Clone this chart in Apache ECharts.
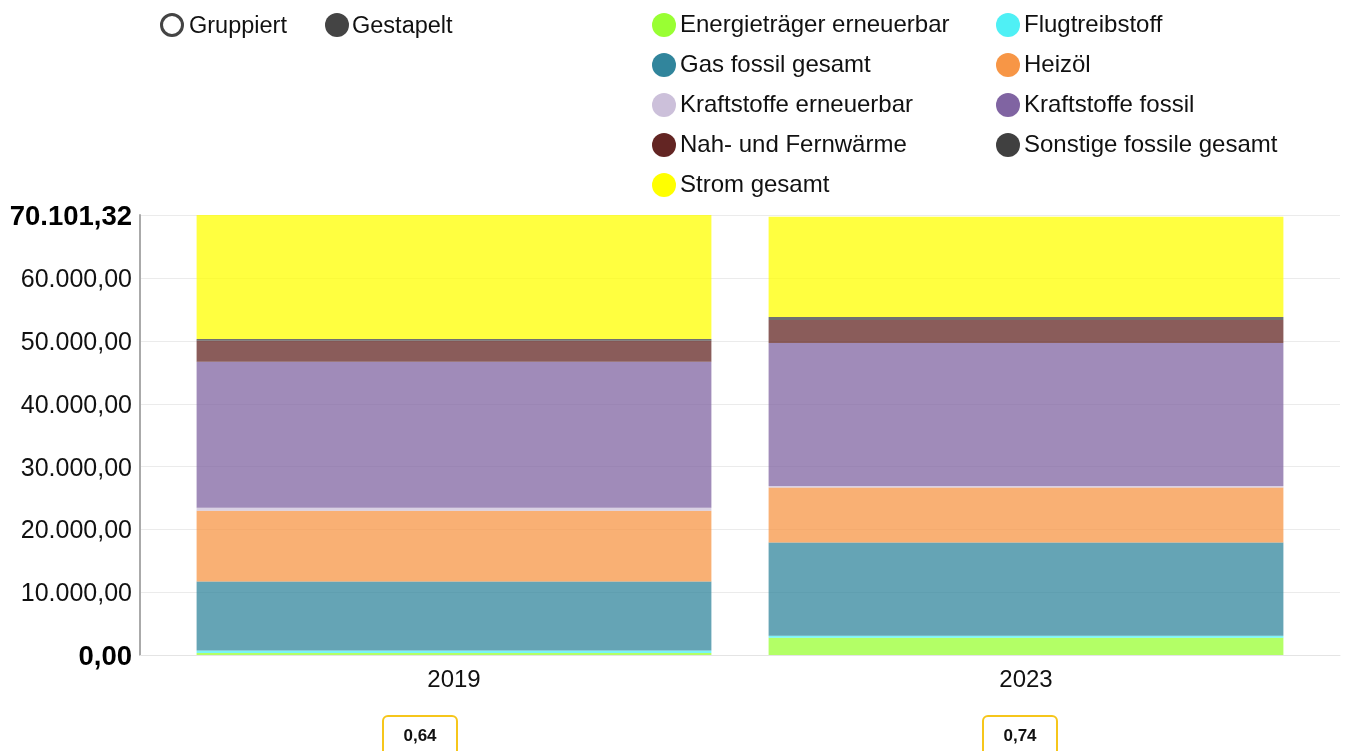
<!DOCTYPE html>
<html>
<head>
<meta charset="utf-8">
<script src="https://cdn.jsdelivr.net/npm/echarts@6/dist/echarts.min.js"></script>
<style>
html,body{margin:0;padding:0;background:#fff;}
#chart{width:1345px;height:751px;}
</style>
</head>
<body>
<div id="chart"></div>
<script>
const categories = ['2019', '2023'];
const seriesNames = [
  'Energieträger erneuerbar', 'Flugtreibstoff', 'Gas fossil gesamt', 'Heizöl',
  'Kraftstoffe erneuerbar', 'Kraftstoffe fossil', 'Nah- und Fernwärme',
  'Sonstige fossile gesamt', 'Strom gesamt'
];
const seriesColors = ['#99ff33', '#4ff0f5', '#31859c', '#f79646', '#ccc0da', '#8064a2', '#632523', '#404040', '#ffff00'];
const energieErneuerbar = [300, 2760];
const flugtreibstoff = [430, 320];
const gasFossil = [10980, 14845];
const heizoel = [11280, 8765];
const kraftstoffeErneuerbar = [480, 240];
const kraftstoffeFossil = [23260, 22778];
const nahFernwaerme = [3346, 3664];
const sonstigeFossil = [270, 480];
const stromGesamt = [19755.32, 15978];
const boxValues = [0.64, 0.74];
const leftLegend = ['Energieträger erneuerbar', 'Gas fossil gesamt', 'Kraftstoffe erneuerbar', 'Nah- und Fernwärme', 'Strom gesamt'];
const rightLegend = ['Flugtreibstoff', 'Heizöl', 'Kraftstoffe fossil', 'Sonstige fossile gesamt'];

const seriesData = [energieErneuerbar, flugtreibstoff, gasFossil, heizoel, kraftstoffeErneuerbar,
  kraftstoffeFossil, nahFernwaerme, sonstigeFossil, stromGesamt];

const totals = categories.map((c, i) => seriesData.reduce((s, arr) => s + arr[i], 0));
const yMax = Math.round(Math.max(...totals) * 100) / 100;

function fmtDe(v, d) {
  const neg = v < 0; v = Math.abs(v);
  const s = v.toFixed(d);
  let [ip, fp] = s.split('.');
  ip = ip.replace(/\B(?=(\d{3})+(?!\d))/g, '.');
  return (neg ? '-' : '') + ip + (fp ? ',' + fp : '');
}

const FONT = '"Liberation Sans", Arial, sans-serif';
const chart = echarts.init(document.getElementById('chart'), null, {renderer: 'canvas'});

const option = {
  animation: false,
  backgroundColor: '#fff',
  textStyle: {fontFamily: FONT},
  grid: [
    {left: 140, right: 5, top: 215, bottom: 96, containLabel: false},
    {left: 168, right: 33, top: 215, bottom: 96, containLabel: false}
  ],
  xAxis: [
    {type: 'category', gridIndex: 0, data: categories,
     axisLine: {show: true, lineStyle: {color: '#e4e4e4', width: 1}},
     axisTick: {show: false}, axisLabel: {show: false}, splitLine: {show: false}},
    {type: 'category', gridIndex: 1, data: categories,
     axisLine: {show: false}, axisTick: {show: false},
     axisLabel: {show: true, fontSize: 24, color: '#111', margin: 13, fontFamily: FONT}}
  ],
  yAxis: [
    {type: 'value', gridIndex: 0, min: 0, max: yMax, interval: 10000,
     axisLine: {show: true, lineStyle: {color: '#aaaaaa', width: 2}},
     axisTick: {show: false},
     splitLine: {show: true, lineStyle: {color: '#ebebeb', width: 1}},
     axisLabel: {
       fontSize: 25, color: '#111', margin: 8, fontFamily: FONT, padding: [4, 0, 0, 0],
       formatter: function (v) {
         if (v === 0) return '{b|0,00}';
         if (Math.abs(v - yMax) < 1e-6) return '{b|' + fmtDe(v, 2) + '}';
         if (v > yMax - 5000) return '';
         return fmtDe(v, 2);
       },
       rich: {b: {fontSize: 27.5, fontWeight: 'bold', color: '#000', fontFamily: FONT}}
     }},
    {type: 'value', gridIndex: 1, min: 0, max: yMax, show: false, splitLine: {show: false}}
  ],
  legend: [
    {data: leftLegend, orient: 'vertical', left: 652, top: 13, icon: 'circle',
     itemWidth: 24, itemHeight: 24, itemGap: 16, padding: 0,
     itemStyle: {opacity: 1},
     textStyle: {fontSize: 24, color: '#111', fontFamily: FONT, padding: [4, 0, 0, -1]}},
    {data: rightLegend, orient: 'vertical', left: 996, top: 13, icon: 'circle',
     itemWidth: 24, itemHeight: 24, itemGap: 16, padding: 0,
     itemStyle: {opacity: 1},
     textStyle: {fontSize: 24, color: '#111', fontFamily: FONT, padding: [4, 0, 0, -1]}}
  ],
  series: seriesNames.map((name, k) => ({
    name: name,
    type: 'bar',
    stack: 'total',
    xAxisIndex: 1,
    yAxisIndex: 1,
    barCategoryGap: '10%',
    data: seriesData[k],
    itemStyle: {color: seriesColors[k], opacity: 0.75},
    emphasis: {disabled: true}
  })),
  graphic: [
    {type: 'circle', shape: {cx: 172, cy: 25, r: 10.5}, style: {fill: '#fff', stroke: '#444', lineWidth: 3}},
    {type: 'text', x: 189, y: 27, style: {text: 'Gruppiert', fontSize: 23.5, fill: '#111', fontFamily: FONT, verticalAlign: 'middle'}},
    {type: 'circle', shape: {cx: 337, cy: 25, r: 12}, style: {fill: '#444'}},
    {type: 'text', x: 352, y: 27, style: {text: 'Gestapelt', fontSize: 23.5, fill: '#111', fontFamily: FONT, verticalAlign: 'middle'}},
    {type: 'rect', shape: {x: 383, y: 716, width: 74, height: 45, r: 5}, style: {fill: '#fff', stroke: '#f6c61b', lineWidth: 2}},
    {type: 'text', x: 420, y: 736, style: {text: fmtDe(boxValues[0], 2), fontSize: 17, fontWeight: 'bold', fill: '#111', fontFamily: FONT, align: 'center', verticalAlign: 'middle'}},
    {type: 'rect', shape: {x: 983, y: 716, width: 74, height: 45, r: 5}, style: {fill: '#fff', stroke: '#f6c61b', lineWidth: 2}},
    {type: 'text', x: 1020, y: 736, style: {text: fmtDe(boxValues[1], 2), fontSize: 17, fontWeight: 'bold', fill: '#111', fontFamily: FONT, align: 'center', verticalAlign: 'middle'}}
  ]
};
chart.setOption(option);
</script>
</body>
</html>
